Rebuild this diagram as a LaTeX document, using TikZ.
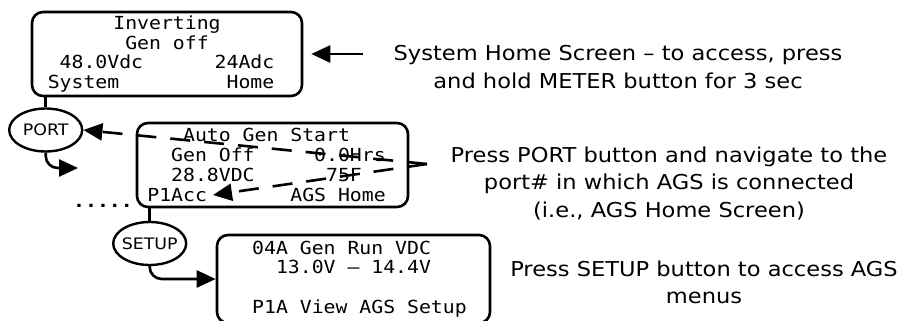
\documentclass[tikz,border=0pt]{standalone}
\usepackage{fontspec}
\newfontfamily\lcdfont[FakeStretch=1.1]{DejaVu Sans Mono}
\newfontfamily\notefont[FakeStretch=1.1]{DejaVu Sans}
\usetikzlibrary{arrows.meta,positioning,shapes.geometric}

\begin{document}
\begin{tikzpicture}[x=1pt, y=-1pt,
      lcd/.style={draw, rounded corners=11pt, line width=2.6pt, minimum height=84pt,
                  inner sep=0pt, font=\lcdfont\fontsize{18}{19.8}\selectfont},
      btn/.style={draw, ellipse, line width=2.4pt, inner sep=0pt, minimum width=73pt,
                  minimum height=43pt, font=\notefont\fontsize{15.8}{18}\selectfont},
      note/.style={align=center, font=\notefont\fontsize{20.5}{27.5}\selectfont},
      arr/.style={-{Triangle[length=19pt,width=17pt]}, line width=2.6pt},
      darr/.style={arr, dash pattern=on 20pt off 14pt}]
    \useasboundingbox (0,0) rectangle (900,321);
    % display screens
    \node[lcd, minimum width=270pt, align=center] (home) at (167,54)
      {Inverting\\Gen off\\48.0Vdc~~~~~~24Adc\\System~~~~~~~~~Home\hphantom{0}};
    \node[lcd, minimum width=271pt, align=left] (ags) at (272.5,165)
      {\mbox{}~~~Auto Gen Start\\\mbox{}~~Gen Off~~~~~0.0Hrs\\\mbox{}~~28.8VDC~~~~~~75F\\P1Acc~~~~~~~AGS Home\hphantom{0}};
    \node[lcd, minimum width=273pt, minimum height=88pt, align=left] (sbox) at (353.5,279)
      {\mbox{}~04A Gen Run VDC\\\mbox{}~~~13.0V – 14.4V\\\mbox{}\\\mbox{}~P1A View AGS Setup};
    % buttons
    \node[btn, below=10pt of home.south west, xshift=15pt] (port) {\makebox[0pt]{PORT}};
    \node[btn, below=12.5pt of ags.south west, xshift=14pt] (setup) {\makebox[0pt]{SETUP}};
    \node[font=\lcdfont\bfseries\fontsize{18}{18}\selectfont] (dots) at (103,206) {.....};
    % notes
    \node[note] (homenote) at (618,67) {System Home Screen – to access, press\\and hold METER button for 3 sec};
    \node[note] (portnote) at (669,183.5) {Press PORT button and navigate to the\\port\# in which AGS is connected\\(i.e., AGS Home Screen)};
    \node[note] (setupnote) at (704,282.5) {Press SETUP button to access AGS\\menus};
    \coordinate (homeptr) at (363,54);
    \coordinate (pdn) at (78,168);
    \coordinate (src) at (427,164);
    \coordinate (acc) at (213,195);
    \draw[line width=2.6pt] (home.south -| port.north) -- (port.north);
    \draw[arr, rounded corners=12pt] (port.south) |- (pdn);
    \draw[line width=2.6pt] (ags.south -| setup.north) -- (setup.north);
    \draw[arr, rounded corners=12pt] (setup.south) |- (sbox.west);
    \draw[arr, shorten >=8pt] (homeptr) -- (home.east);
    \draw[darr] (src) -- (port.east);
    \draw[darr] (src) -- (acc);
  \end{tikzpicture}
\end{document}
